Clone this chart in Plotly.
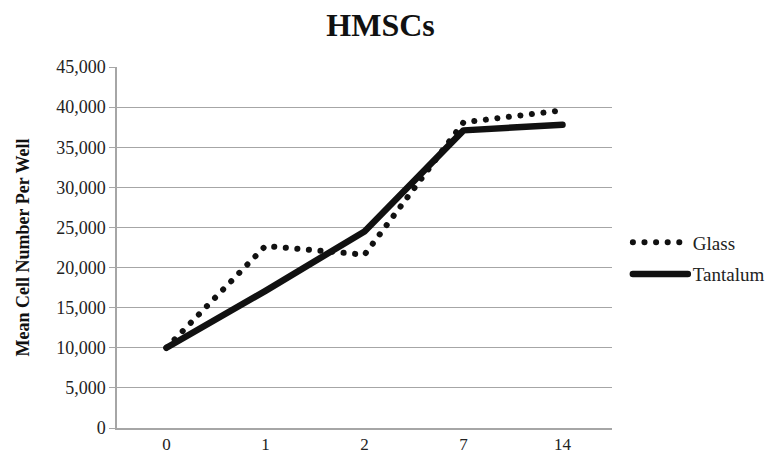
import plotly.graph_objects as go

days = ["0", "1", "2", "7", "14"]
glass = [10000, 22700, 21600, 38100, 39600]
tantalum = [10000, 17100, 24500, 37100, 37800]
y_ticks = [0, 5000, 10000, 15000, 20000, 25000, 30000, 35000, 40000, 45000]

SERIF = "Liberation Serif"

fig = go.Figure()
fig.add_trace(go.Scatter(x=days, y=glass, mode="lines", name="Glass", legendgroup="g1",
                         line=dict(color="#111111", width=6, dash="0.1px,11.5px")))
fig.add_trace(go.Scatter(x=days, y=tantalum, mode="lines", name="Tantalum", legendgroup="g2",
                         line=dict(color="#111111", width=6.5)))

fig.update_layout(
    width=772, height=453,
    margin=dict(l=117, r=160, t=67, b=25, autoexpand=False),
    paper_bgcolor="white", plot_bgcolor="white",
    font=dict(family=SERIF, size=18, color="#222222"),
    title=dict(text="<b>HMSCs</b>", x=0.493, xanchor="center", y=0.945, yanchor="middle",
               font=dict(family=SERIF, size=32, color="#111111")),
    xaxis=dict(type="category", range=[-0.5, 4.5], showgrid=False,
               showline=True, linecolor="#A6A6A6", linewidth=1.5,
               ticks="", tickfont=dict(size=17), ticklabelstandoff=0,
               automargin=False),
    yaxis=dict(range=[0, 45000], tickvals=y_ticks, tickformat=",d",
               showgrid=True, gridcolor="#A6A6A6", gridwidth=1.3,
               showline=True, linecolor="#A6A6A6", linewidth=1.5,
               ticks="outside", ticklen=6, tickcolor="#A6A6A6",
               tickfont=dict(size=18),
               zeroline=False, automargin=False,
               title=dict(text="<b>Mean Cell Number Per Well</b>", standoff=22,
                          font=dict(family=SERIF, size=18, color="#111111"))),
    legend=dict(x=1.032, y=0.47, xanchor="left", yanchor="middle",
                font=dict(family=SERIF, size=19, color="#222222"),
                itemwidth=55, tracegroupgap=4),
    showlegend=True,
)

post = """
document.body.style.margin = '0';
document.body.style.padding = '0';
var gd = document.getElementsByClassName('plotly-graph-div')[0];
function fixCaps(){
  var paths = gd.querySelectorAll('.scatterlayer .js-line, .legend .js-line');
  paths.forEach(function(p){ p.style.strokeLinecap = 'round'; p.style.strokeLinejoin = 'round'; });
}
fixCaps();
gd.on('plotly_afterplot', fixCaps);
"""
fig.write_html("out.html", post_script=post, config={"displayModeBar": False})
